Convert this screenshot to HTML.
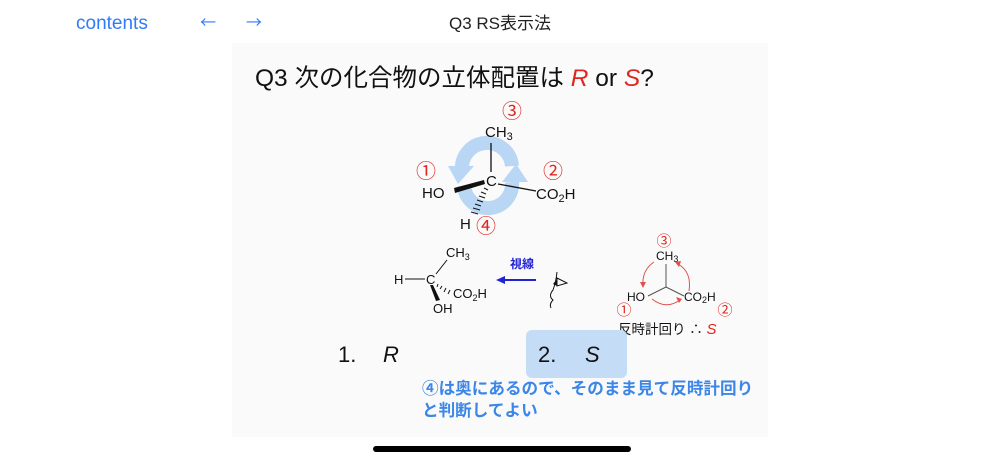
<!DOCTYPE html>
<html><head><meta charset="utf-8"><style>
html,body{margin:0;padding:0;background:#fff;}
body{width:1000px;height:462px;position:relative;overflow:hidden;font-family:"Liberation Sans","Noto Sans CJK JP",sans-serif;}
svg{position:absolute;left:0;top:0;}
.c{font-family:"Noto Sans CJK JP",sans-serif;}
</style></head><body>
<svg width="1000" height="462" viewBox="0 0 1000 462" font-family="Liberation Sans, Noto Sans CJK JP, sans-serif">
<rect x="232" y="43" width="536" height="394" fill="#fafafa"/>
<text x="76" y="29" font-size="19" fill="#2f7cf6">contents</text>
<text x="208" y="28" font-size="16" fill="#2f7cf6" text-anchor="middle" class="c">←</text>
<text x="254" y="28" font-size="16" fill="#2f7cf6" text-anchor="middle" class="c">→</text>
<text x="500" y="29" font-size="17" fill="#222" text-anchor="middle">Q3 RS表示法</text>
<text x="255" y="86" font-size="24.5" fill="#111">Q3 次の化合物の立体配置は <tspan fill="#e0261e" font-style="italic">R</tspan> or <tspan fill="#e0261e" font-style="italic">S</tspan>?</text>
<!-- circular arrows -->
<g fill="none" stroke="#b9d6f5" stroke-width="14">
<path d="M512 166 A24 24 0 0 0 462 170"/>
<path d="M464 186 A24 24 0 0 0 512 182"/>
</g>
<polygon points="448,166 474,166 458,184" fill="#b9d6f5"/>
<polygon points="502,182 528,182 516,164" fill="#b9d6f5"/>
<!-- top molecule -->
<line x1="491" y1="143" x2="491" y2="172" stroke="#111" stroke-width="1.3"/>
<line x1="498" y1="184" x2="536" y2="191" stroke="#111" stroke-width="1.3"/>
<polygon points="454,188 484,180 485,184 455,193" fill="#111"/>
<g stroke="#111" stroke-width="1">
<line x1="484" y1="188" x2="488" y2="190"/><line x1="481" y1="192" x2="486" y2="194"/><line x1="479" y1="196" x2="485" y2="198"/><line x1="477" y1="200" x2="483" y2="202"/><line x1="475" y1="204" x2="481" y2="206"/><line x1="473" y1="208" x2="480" y2="210"/><line x1="471" y1="212" x2="478" y2="214"/>
</g>
<text x="486" y="186" font-size="15" fill="#111">C</text>
<text x="485" y="137" font-size="15" fill="#111">CH<tspan font-size="11" dy="3">3</tspan></text>
<text x="422" y="198" font-size="15" fill="#111">HO</text>
<text x="536" y="199" font-size="15" fill="#111">CO<tspan font-size="11" dy="3">2</tspan><tspan dy="-3">H</tspan></text>
<text x="460" y="229" font-size="15" fill="#111">H</text>
<g font-size="20" fill="#e0261e" text-anchor="middle" class="c">
<text x="512" y="118">③</text><text x="426" y="178">①</text><text x="553" y="178">②</text><text x="486" y="233">④</text>
</g>
<!-- second molecule -->
<text x="394" y="284" font-size="13" fill="#111">H</text>
<line x1="405" y1="279" x2="425" y2="279" stroke="#111" stroke-width="1"/>
<text x="426" y="284" font-size="13" fill="#111">C</text>
<line x1="436" y1="274" x2="447" y2="260" stroke="#111" stroke-width="1"/>
<text x="446" y="257" font-size="13" fill="#111">CH<tspan font-size="9" dy="3">3</tspan></text>
<polygon points="430,285 433,285 440,300 436,301" fill="#111"/>
<g stroke="#111" stroke-width="1">
<line x1="438" y1="284" x2="437" y2="287"/><line x1="442" y1="286" x2="440" y2="289"/><line x1="446" y1="288" x2="444" y2="292"/><line x1="450" y1="290" x2="448" y2="294"/>
</g>
<text x="453" y="298" font-size="13" fill="#111">CO<tspan font-size="9" dy="3">2</tspan><tspan dy="-3">H</tspan></text>
<text x="433" y="313" font-size="13" fill="#111">OH</text>
<text x="510" y="268" font-size="12" font-weight="bold" fill="#2323d6">視線</text>
<line x1="502" y1="280" x2="536" y2="280" stroke="#2323d6" stroke-width="2"/>
<polygon points="496,280 505,276 505,284" fill="#2323d6"/>
<!-- eye -->
<g stroke="#111" stroke-width="1" fill="none">
<path d="M557 272 Q556 282 553 290 Q548 296 553 300 Q549 304 551 308"/>
<polygon points="557,278 567,283 557,286"/>
</g>
<path d="M557 279 L557 286 L553 284 Z" fill="#111"/>
<!-- right molecule -->
<text x="664" y="246" font-size="15" fill="#e0261e" text-anchor="middle" class="c">③</text>
<text x="656" y="260" font-size="12" fill="#111">CH<tspan font-size="9" dy="2">3</tspan></text>
<g stroke="#555" stroke-width="1">
<line x1="666" y1="264" x2="666" y2="287"/><line x1="666" y1="287" x2="648" y2="296"/><line x1="666" y1="287" x2="684" y2="296"/>
</g>
<text x="627" y="301" font-size="12" fill="#111">HO</text>
<text x="684" y="301" font-size="12" fill="#111">CO<tspan font-size="9" dy="2">2</tspan><tspan dy="-2">H</tspan></text>
<text x="624" y="315" font-size="15" fill="#e0261e" text-anchor="middle" class="c">①</text>
<text x="725" y="315" font-size="15" fill="#e0261e" text-anchor="middle" class="c">②</text>
<g stroke="#e05050" stroke-width="1" fill="none">
<path d="M654 262 Q642 270 643 285"/><path d="M652 299 Q666 310 680 300"/><path d="M689 291 Q692 272 678 264"/>
</g>
<g fill="#e05050">
<polygon points="643,288 640,282 646,282"/><polygon points="682,299 676,297 679,303"/><polygon points="675,262 681,261 679,267"/>
</g>
<text x="618" y="334" font-size="13.5" fill="#111">反時計回り ∴ <tspan fill="#e0261e" font-style="italic" font-size="15">S</tspan></text>
<!-- answers -->
<rect x="526" y="330" width="101" height="48" rx="6" fill="#c5dcf6"/>
<text x="338" y="362" font-size="22" fill="#111">1.</text>
<text x="383" y="362" font-size="22" fill="#111" font-style="italic">R</text>
<text x="538" y="362" font-size="22" fill="#111">2.</text>
<text x="585" y="362" font-size="22" fill="#111" font-style="italic">S</text>
<text x="422" y="394" font-size="16.6" font-weight="bold" fill="#3b86e8">④は奥にあるので、そのまま見て反時計回り</text>
<text x="422" y="416" font-size="16.6" font-weight="bold" fill="#3b86e8">と判断してよい</text>
<rect x="373" y="446" width="258" height="6" rx="3" fill="#000"/>
</svg>
</body></html>
